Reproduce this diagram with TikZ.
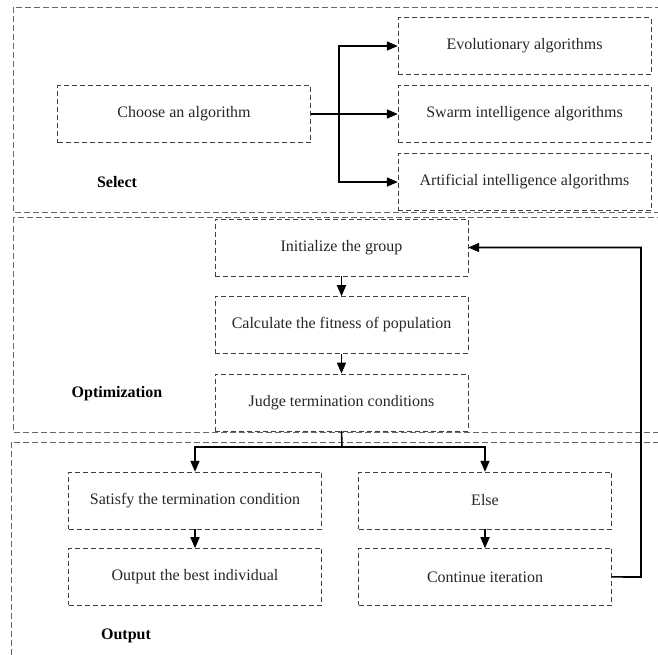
\documentclass[tikz,border=0pt]{standalone}
\usepackage{fontspec}
\setmainfont{Liberation Serif}
\usetikzlibrary{arrows.meta,positioning}

\begin{document}
\begin{tikzpicture}[x=1pt,y=-1pt,
    every node/.style={font=\fontsize{16}{19}\selectfont},
    box/.style={draw=black!75, dash pattern=on 5pt off 3pt, minimum width=253pt,
      minimum height=57pt, inner sep=0pt, text=black!85},
    frame/.style={draw=black!60, dash pattern=on 6pt off 3pt, line width=0.9pt},
    tag/.style={font=\fontsize{16}{19}\selectfont\bfseries},
    link/.style={-{Triangle[length=11pt,width=9pt]}, line width=1.6pt},
    node distance=20pt]
    \clip (0,0) rectangle (658,654);
    % the three stages
    \draw[frame] (13,7) rectangle (690,212);
    \draw[frame] (13,217) rectangle (690,432);
    \draw[frame] (11,442) rectangle (690,690);
    \node[tag] (select) at (117,182) {Select};
    \node[tag] (optim) at (117,394) {Optimization};
    \node[tag] (outp) at (126,636) {Output};

    % select
    \node[box] (choose) at (184,114) {Choose an algorithm};
    \node[box] (evo) at (524.5,46) {Evolutionary algorithms};
    \node[box] (swarm) at (524.5,114) {Swarm intelligence algorithms};
    \node[box] (ai) at (524.5,182) {Artificial intelligence algorithms};

    % optimization
    \node[box] (init) at (341.5,247.5) {Initialize the group};
    \node[box, below=of init] (fit) {Calculate the fitness of population};
    \node[box, below=of fit] (judge) {Judge termination conditions};

    % output
    \node[box] (sat) at (195,500.5) {Satisfy the termination condition};
    \node[box, below=19pt of sat] (best) {Output the best individual};
    \node[box] (else) at (485,500.5) {Else};
    \node[box, below=19pt of else] (cont) {Continue iteration};

    \coordinate (fork) at (339,114);
    \coordinate (split) at (342,447);
    \coordinate (back) at (641,577);

    \draw[line width=1.6pt] (choose.east) -- (fork);
    \draw[link] (fork) |- (evo.west);
    \draw[link] (fork) -- (swarm.west);
    \draw[link] (fork) |- (ai.west);

    \draw[link] (init) -- (fit);
    \draw[link] (fit) -- (judge);
    \draw[line width=1.6pt] (judge.south) -- (split);
    \draw[link] (split) -| (sat.north);
    \draw[link] (split) -| (else.north);
    \draw[link] (sat) -- (best);
    \draw[link] (else) -- (cont);
    \draw[link] (cont.east) -- (back) |- (init.east);
\end{tikzpicture}
\end{document}
